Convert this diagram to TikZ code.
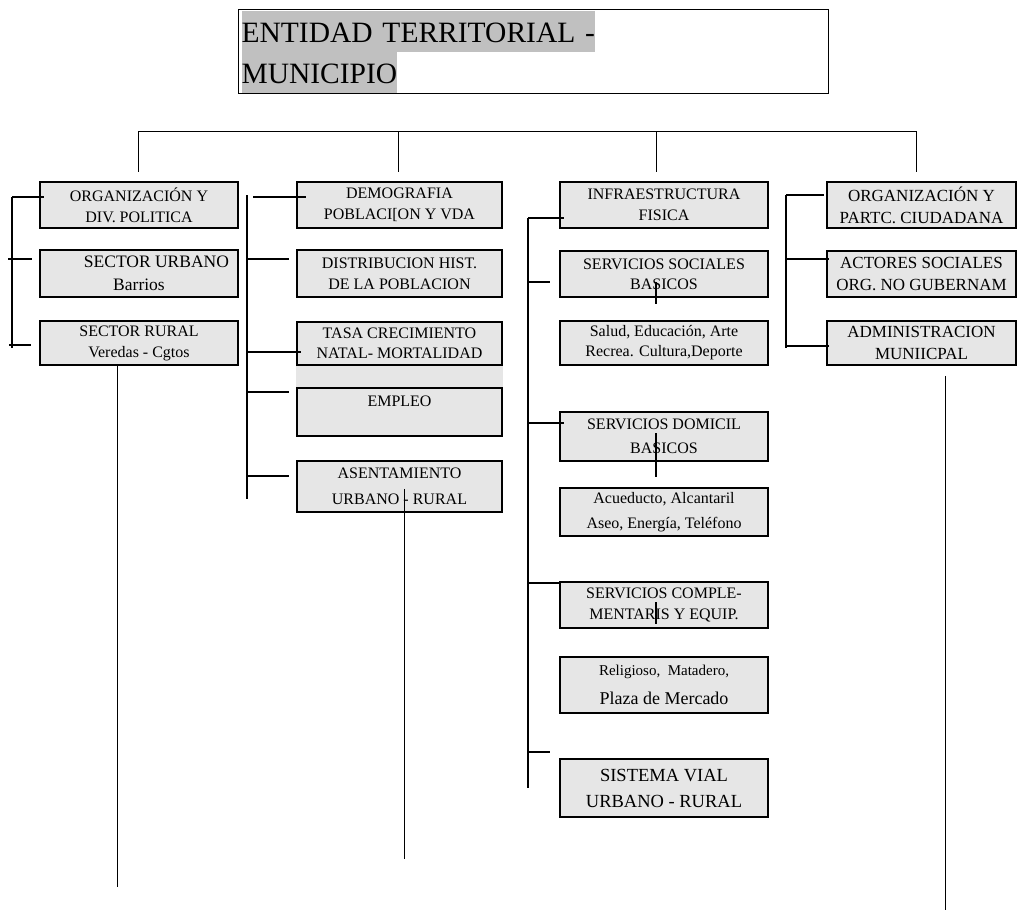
\documentclass[tikz,border=0pt]{standalone}
\usepackage{fontspec}
\setmainfont{Liberation Serif}
\usetikzlibrary{calc,backgrounds}
\definecolor{cajagris}{RGB}{230,230,230}
\definecolor{resalte}{RGB}{192,192,192}
\newcommand{\resaltar}[1]{\colorbox{resalte}{\rule[-9pt]{0pt}{41pt}#1}}
\tikzset{
  caja/.style={draw, line width=1.5pt, fill=cajagris, inner sep=0pt, align=center, font=\fontsize{16}{21}\selectfont},
  colA/.style={caja, minimum width=198pt},
  colB/.style={caja, minimum width=205pt},
  colC/.style={caja, minimum width=208pt},
  colD/.style={caja, minimum width=189pt, font=\fontsize{17}{22}\selectfont},
  brazo/.style={line width=1.5pt},
  arbol/.style={line width=1pt},
}
\begin{document}
\begin{tikzpicture}[x=1pt,y=-1pt]
\useasboundingbox (0,0) rectangle (1017,911);
% titulo
\node[draw, line width=1.2pt, anchor=north west, text width=584pt, inner xsep=3pt, inner ysep=1pt, align=left,
  font=\fontsize{29.5}{41}\selectfont] (titulo) at (238,9)
  {\setlength{\fboxsep}{0pt}\resaltar{ENTIDAD TERRITORIAL -}\\\resaltar{MUNICIPIO}};

% columna 1
\node[colA, minimum height=46pt] (org1) at (139,205) {ORGANIZACIÓN Y\\DIV. POLITICA};
\node[colA, minimum height=47pt, font=\fontsize{17.5}{23}\selectfont] (urb1) at (139,273.5) {\hspace*{35pt}SECTOR URBANO\\Barrios};
\node[colA, minimum height=44pt] (rur1) at (139,343) {SECTOR RURAL\\Veredas - Cgtos};

% columna 2
\node[colB, minimum height=46pt] (demo) at (399.5,205) {DEMOGRAFIA\\POBLACI[ON Y VDA};
\node[colB, minimum height=47pt] (dist) at (399.5,273.5) {DISTRIBUCION HIST.\\DE LA POBLACION};
\node[colB, minimum height=43pt, font=\fontsize{16}{20}\selectfont] (tasa) at (399.5,343.5) {TASA CRECIMIENTO\\NATAL- MORTALIDAD};
\node[colB, minimum height=48pt, font=\fontsize{16}{22}\selectfont] (empl) at (399.5,412) {EMPLEO\\\mbox{}};
\node[colB, minimum height=51pt, font=\fontsize{16}{26}\selectfont] (asen) at (399.5,486.5) {ASENTAMIENTO\\URBANO - RURAL};
\begin{scope}[on background layer]
  \fill[cajagris] (tasa.south west) rectangle (empl.north east);
\end{scope}

% columna 3
\node[colC, minimum height=46pt] (infra) at (664,205) {INFRAESTRUCTURA\\FISICA};
\node[colC, minimum height=46pt, font=\fontsize{16}{20}\selectfont] (ssoc) at (664,274) {SERVICIOS SOCIALES\\BASICOS};
\node[colC, minimum height=44pt, font=\fontsize{16}{20}\selectfont] (salud) at (664,343) {Salud, Educación, Arte\\Recrea. Cultura,Deporte};
\node[colC, minimum height=49pt, font=\fontsize{16}{24}\selectfont] (sdom) at (664,436.5) {SERVICIOS DOMICIL\\BASICOS};
\node[colC, minimum height=48pt, font=\fontsize{16}{25}\selectfont] (acue) at (664,512) {Acueducto, Alcantaril\\Aseo, Energía, Teléfono};
\node[colC, minimum height=46pt, font=\fontsize{16}{21}\selectfont] (scomp) at (664,605) {SERVICIOS COMPLE-\\MENTARIS Y EQUIP.};
\node[colC, minimum height=56pt, font=\fontsize{16}{29}\selectfont] (relig) at (664,685)
  {{\fontsize{15}{29}\selectfont Religioso,\ \ Matadero,}\\{\fontsize{18}{29}\selectfont Plaza de Mercado}};
\node[colC, minimum height=58pt, font=\fontsize{18.5}{26}\selectfont] (svial) at (664,788) {SISTEMA VIAL\\URBANO - RURAL};

% columna 4
\node[colD, minimum height=46pt] (orgp) at (921.5,205) {ORGANIZACIÓN Y\\PARTC. CIUDADANA};
\node[colD, minimum height=46pt] (actor) at (921.5,274) {ACTORES SOCIALES\\ORG. NO GUBERNAM};
\node[colD, minimum height=44pt] (admin) at (921.5,343) {ADMINISTRACION\\MUNIICPAL};

% arbol superior
\coordinate (r1) at (138,131);
\coordinate (r2) at (398,131);
\coordinate (r3) at (656,131);
\coordinate (r4) at (916,131);
\draw[arbol] (r1) -- (r4);
\draw[arbol, shorten >=9pt] (r1) -- (r1 |- org1.north);
\draw[arbol, shorten >=9pt] (r2) -- (r2 |- demo.north);
\draw[arbol, shorten >=9pt] (r3) -- (r3 |- infra.north);
\draw[arbol, shorten >=9pt] (r4) -- (r4 |- orgp.north);

% llaves columna 1
\coordinate (a1) at (12,197);
\coordinate (a2) at (12,259);
\coordinate (a3) at (12,345);
\draw[brazo] (a1) -- ($(a3)+(0,-3pt)$);
\draw[brazo] (a1) -- ($(a1 -| org1.west)+(5pt,0)$);
\draw[brazo] ($(a2)+(-4pt,0)$) -- ($(a2 -| urb1.west)+(-7pt,0)$);
\draw[brazo] ($(a3)+(-3pt,0)$) -- ($(a3 -| rur1.west)+(-8pt,0)$);

% llaves columna 2
\coordinate (b0) at (247,195);
\coordinate (b1) at (253,197);
\coordinate (b2) at (247,259);
\coordinate (b3) at (247,352);
\coordinate (b4) at (247,392);
\coordinate (b5) at (247,476);
\coordinate (b6) at (247,499);
\draw[brazo] (b0) -- (b6);
\draw[brazo] (b1) -- ($(b1 -| demo.west)+(10pt,0)$);
\draw[brazo] (b2) -- ($(b2 -| dist.west)+(-7pt,0)$);
\draw[brazo] (b3) -- ($(b3 -| tasa.west)+(5pt,0)$);
\draw[brazo] (b4) -- ($(b4 -| empl.west)+(-7pt,0)$);
\draw[brazo] (b5) -- ($(b5 -| asen.west)+(-7pt,0)$);

% llaves columna 3
\coordinate (c1) at (528,218);
\coordinate (c2) at (528,282);
\coordinate (c3) at (528,423);
\coordinate (c4) at (528,583);
\coordinate (c5) at (528,752);
\coordinate (c6) at (528,788);
\draw[brazo] (c1) -- (c6);
\draw[brazo] (c1) -- ($(c1 -| infra.west)+(5pt,0)$);
\draw[brazo] (c2) -- ($(c2 -| ssoc.west)+(-9pt,0)$);
\draw[brazo] (c3) -- ($(c3 -| sdom.west)+(5pt,0)$);
\draw[brazo] (c4) -- (c4 -| scomp.west);
\draw[brazo] (c5) -- ($(c5 -| svial.west)+(-9pt,0)$);

% uniones internas columna 3
\coordinate (m1) at (656,282);
\coordinate (m2) at (656,433);
\coordinate (m3) at (656,602);
\draw[brazo, shorten >=16pt] (m1) -- (m1 |- salud.north);
\draw[brazo, shorten >=10pt] (m2) -- (m2 |- acue.north);
\draw[brazo, shorten >=5pt] (m3) -- (m3 |- scomp.south);

% llaves columna 4
\coordinate (d1) at (786,195);
\coordinate (d2) at (786,259);
\coordinate (d3) at (786,346);
\draw[brazo] (d1) -- ($(d3)+(0,-2pt)$);
\draw[brazo] (d1) -- ($(d1 -| orgp.west)+(-2pt,0)$);
\draw[brazo] (d2) -- ($(d2 -| actor.west)+(3pt,0)$);
\draw[brazo] (d3) -- ($(d3 -| admin.west)+(3pt,0)$);

% lineas largas
\coordinate (fin1) at (117,887);
\coordinate (fin2) at (404,859);
\coordinate (fin4) at (945,910);
\draw[arbol] (rur1.south -| fin1) -- (fin1);
\draw[arbol] ($(asen.south -| fin2)+(0,24pt)$) -- (fin2);
\draw[arbol] ($(admin.south -| fin4)+(0,-10pt)$) -- (fin4);
\end{tikzpicture}
\end{document}
